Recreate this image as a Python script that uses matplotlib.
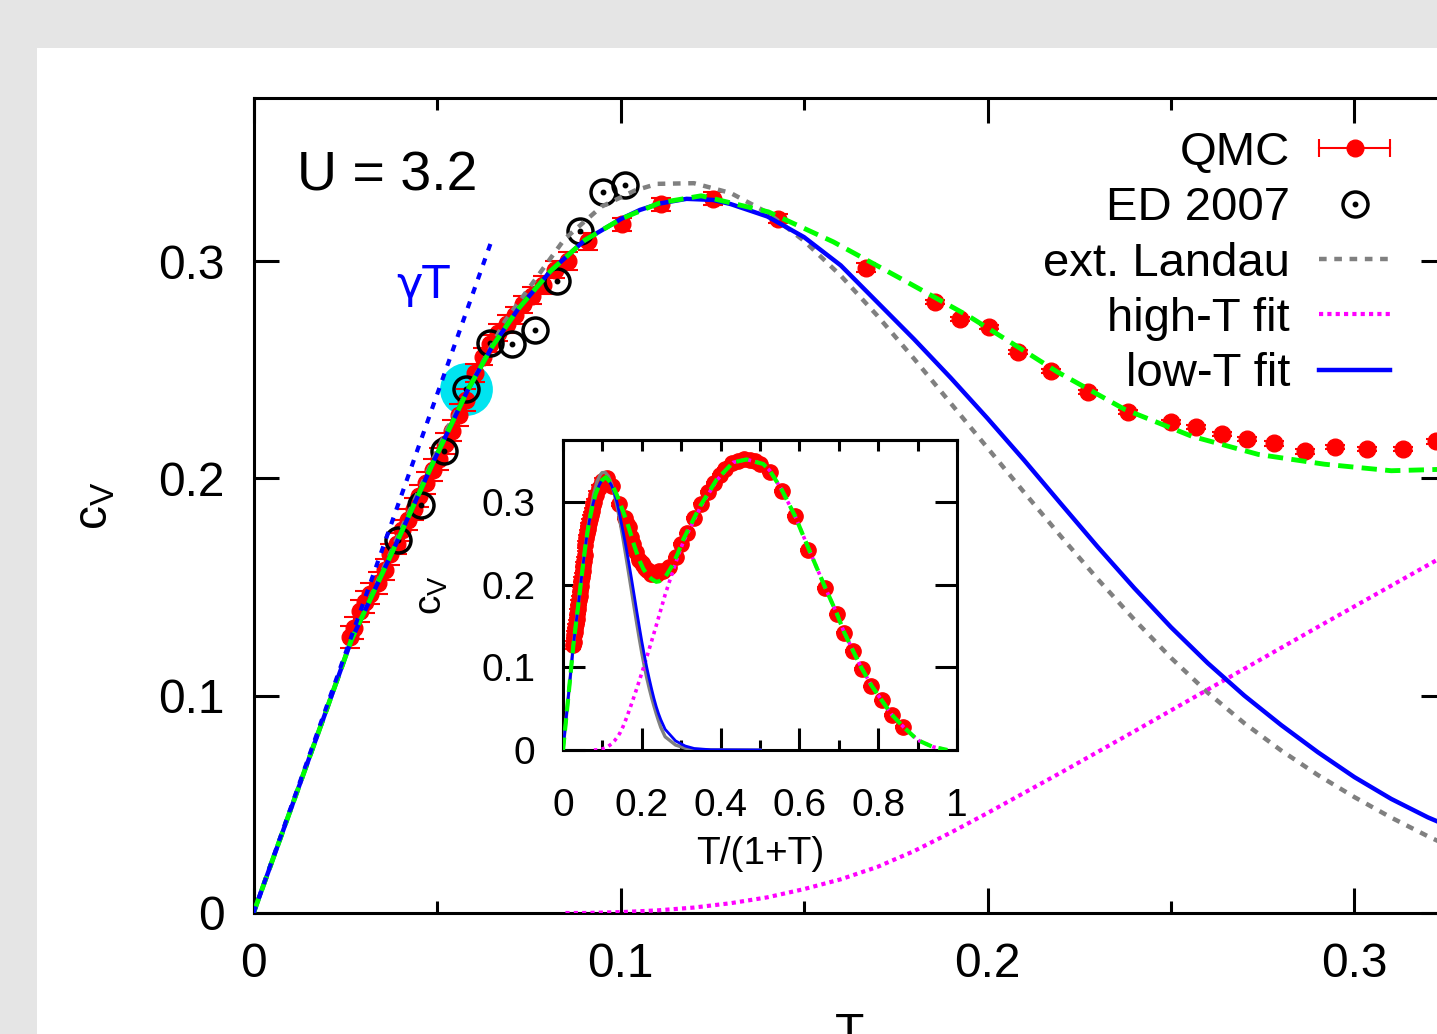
import numpy as np
import matplotlib
matplotlib.use("Agg")
import matplotlib.pyplot as plt
from matplotlib.patches import Rectangle
from matplotlib.lines import Line2D
from matplotlib.legend_handler import HandlerTuple, HandlerLine2D

plt.rcParams["font.family"] = ["Liberation Sans", "DejaVu Sans"]
plt.rcParams["mathtext.fontset"] = "custom"
plt.rcParams["mathtext.rm"] = "Liberation Sans"
plt.rcParams["mathtext.it"] = "Liberation Sans"
plt.rcParams["lines.scale_dashes"] = False

# =========================
# DATA
# =========================
# QMC specific heat (with error bars at low T)
QMC_T = [0.0262, 0.0275, 0.0290, 0.0305, 0.0318, 0.0340, 0.0357, 0.0372, 0.0390, 0.0405,
         0.0420, 0.0438, 0.0452, 0.0470, 0.0488, 0.0505, 0.0522, 0.0540, 0.0560, 0.0580,
         0.0603, 0.0625, 0.0645, 0.0667, 0.0690, 0.0712, 0.0735, 0.0760, 0.0790, 0.0821,
         0.0857, 0.0912, 0.1003, 0.111, 0.1253, 0.143, 0.167,
         0.1856, 0.1924, 0.2003, 0.2084, 0.2174, 0.2275, 0.2384, 0.2501, 0.2567, 0.2638,
         0.2708, 0.2782, 0.2864, 0.2946, 0.3035, 0.3131, 0.3223,
         0.34, 0.37, 0.40, 0.43, 0.46, 0.50, 0.54, 0.58, 0.62, 0.66, 0.70, 0.75, 0.80,
         0.85, 0.90, 0.95, 1.0, 1.105, 1.247, 1.433, 1.653, 1.985, 2.279, 2.484, 2.774,
         3.132, 3.608, 4.236, 5.024, 6.353]
QMC_CV = [0.127, 0.131, 0.139, 0.143, 0.147, 0.152, 0.158, 0.165, 0.170, 0.176,
          0.181, 0.186, 0.192, 0.198, 0.204, 0.209, 0.216, 0.222, 0.229, 0.236,
          0.2485, 0.256, 0.262, 0.267, 0.271, 0.275, 0.280, 0.284, 0.289, 0.296,
          0.300, 0.309, 0.317, 0.326, 0.3286, 0.3194, 0.297,
          0.281, 0.2733, 0.2696, 0.258, 0.2493, 0.2396, 0.2304, 0.2258, 0.2235, 0.2203,
          0.218, 0.2161, 0.2124, 0.2143, 0.2134, 0.2134, 0.217,
          0.216, 0.221, 0.233, 0.249, 0.262, 0.281, 0.298, 0.312, 0.323, 0.333, 0.340,
          0.347, 0.350, 0.352, 0.351, 0.349, 0.346, 0.336, 0.313, 0.283, 0.242, 0.196,
          0.164, 0.142, 0.120, 0.098, 0.077, 0.060, 0.042, 0.028]
QMC_ERR = [0.005, 0.005, 0.005, 0.005, 0.005, 0.005, 0.005, 0.005, 0.005, 0.005,
           0.005, 0.005, 0.005, 0.005, 0.005, 0.005, 0.005, 0.005, 0.005, 0.005,
           0.004, 0.004, 0.004, 0.004, 0.004, 0.004, 0.004, 0.004, 0.004, 0.004,
           0.004, 0.004, 0.003, 0.003, 0.003, 0.002, 0.002,
           0.001, 0.001, 0.001, 0.001, 0.001, 0.001, 0.001, 0.001, 0.001, 0.001,
           0.001, 0.001, 0.001, 0.001, 0.001, 0.001, 0.001,
           0.001, 0.001, 0.001, 0.001, 0.001, 0.001, 0.001, 0.001, 0.001, 0.001, 0.001,
           0.001, 0.001, 0.001, 0.001, 0.001, 0.001, 0.001, 0.001, 0.001, 0.001, 0.001,
           0.001, 0.001, 0.001, 0.001, 0.001, 0.001, 0.001, 0.001]

# ED 2007
ED_T = [0.0394, 0.0456, 0.0518, 0.0580, 0.0644, 0.0703, 0.0767, 0.0826, 0.0891, 0.0951, 0.1012]
ED_CV = [0.1715, 0.1878, 0.2125, 0.2409, 0.2624, 0.2619, 0.2681, 0.2910, 0.3136, 0.3319, 0.3348]
HIGHLIGHT = 3  # ED point marked in cyan

# extended Landau theory
LANDAU_T = [0, 0.01, 0.02, 0.0267, 0.0394, 0.0531, 0.0684, 0.0847, 0.0948, 0.104,
            0.11, 0.12, 0.13, 0.14, 0.15, 0.16, 0.17, 0.18, 0.19, 0.20, 0.21, 0.22,
            0.23, 0.24, 0.25, 0.26, 0.27, 0.28, 0.29, 0.30, 0.31, 0.32, 0.33,
            0.35, 0.40, 0.45, 0.5, 0.6, 1.0]
LANDAU_CV = [0, 0.047, 0.094, 0.1258, 0.1735, 0.2240, 0.272, 0.310, 0.325, 0.3325,
             0.3355, 0.3358, 0.3313, 0.3223, 0.3093, 0.2933, 0.2748, 0.2550, 0.2345, 0.2140,
             0.1935, 0.1733, 0.1537, 0.1350, 0.1174, 0.1014, 0.0873, 0.0748, 0.0635, 0.0533,
             0.0439, 0.0353, 0.0274, 0.016, 0.006, 0.0022, 0.0007, 0.0001, 0.0]

# low-T fit
LOWT_T = [0, 0.01, 0.02, 0.0267, 0.0394, 0.0490, 0.0585, 0.0650, 0.0721, 0.0810, 0.0902,
          0.1003, 0.1053, 0.1108, 0.1180, 0.1252, 0.13, 0.14, 0.15, 0.16, 0.17, 0.18,
          0.19, 0.20, 0.21, 0.22, 0.23, 0.24, 0.25, 0.26, 0.27, 0.28, 0.29, 0.30, 0.31,
          0.32, 0.33, 0.35, 0.40, 0.45, 0.50, 0.60, 1.0]
LOWT_CV = [0, 0.047, 0.094, 0.1258, 0.1719, 0.2075, 0.241, 0.2605, 0.2779, 0.2955, 0.3095,
           0.3195, 0.3235, 0.3265, 0.3286, 0.3281, 0.3262, 0.3205, 0.3110, 0.2980, 0.2810,
           0.2640, 0.2462, 0.2276, 0.2083, 0.1883, 0.1685, 0.1495, 0.1315, 0.1150, 0.1000,
           0.0865, 0.0740, 0.0625, 0.0525, 0.0440, 0.0368, 0.025, 0.011, 0.0048, 0.0018,
           0.0003, 0.0]

# high-T fit
HIGHT_T = [0.085, 0.09, 0.10, 0.11, 0.12, 0.13, 0.14, 0.15, 0.16, 0.17, 0.18, 0.19, 0.20,
           0.21, 0.22, 0.23, 0.24, 0.25, 0.26, 0.27, 0.28, 0.29, 0.30, 0.31, 0.32, 0.33,
           0.35, 0.381, 0.41, 0.439, 0.534, 0.639, 0.761, 0.873, 1.033, 1.105, 1.247,
           1.433, 1.653, 1.985, 2.279, 2.484, 2.774, 3.132, 3.608, 4.236, 5.024, 6.353,
           9, 15, 40]
HIGHT_CV = [0, 0.0, 0.0004, 0.0012, 0.0025, 0.0045, 0.0072, 0.0110, 0.0155, 0.0212,
            0.0285, 0.0370, 0.0460, 0.0553, 0.0646, 0.0741, 0.0836, 0.0932, 0.1028, 0.1124,
            0.1220, 0.1316, 0.1411, 0.1506, 0.1601, 0.1695, 0.188, 0.212, 0.233, 0.2515,
            0.293, 0.326, 0.348, 0.3515, 0.346, 0.338, 0.315, 0.283, 0.244, 0.197, 0.165,
            0.143, 0.121, 0.099, 0.078, 0.060, 0.043, 0.028, 0.012, 0.004, 0.0]

# total fit (green dashed)
TOTAL_T = [0, 0.01, 0.02, 0.0267, 0.0394, 0.0490, 0.0585, 0.0650, 0.0721, 0.081, 0.0902,
           0.1003, 0.1108, 0.122, 0.1403, 0.158, 0.1766, 0.1948, 0.2093, 0.219, 0.2373,
           0.2556, 0.2738, 0.2918, 0.310, 0.3229, 0.35, 0.381, 0.41, 0.439, 0.534, 0.639,
           0.761, 0.873, 1.033, 1.105, 1.247, 1.433, 1.653, 1.985, 2.279, 2.484, 2.774,
           3.132, 3.608, 4.236, 5.024, 6.353, 9, 15, 40]
TOTAL_CV = [0, 0.047, 0.094, 0.1258, 0.1719, 0.2075, 0.241, 0.2605, 0.2779, 0.2955, 0.3095,
            0.3195, 0.3268, 0.33, 0.3226, 0.3088, 0.2917, 0.2747, 0.2594, 0.249, 0.2318,
            0.2194, 0.211, 0.2065, 0.2035, 0.2041, 0.209, 0.222, 0.237, 0.2545, 0.295, 0.327,
            0.348, 0.3515, 0.346, 0.338, 0.315, 0.283, 0.244, 0.197, 0.165, 0.143, 0.121,
            0.099, 0.078, 0.060, 0.043, 0.028, 0.012, 0.004, 0.0]

# gamma*T asymptote
GAMMA_T = [0, 0.065]
GAMMA_CV = [0, 0.310]

MAIN_XTICKS = [0, 0.1, 0.2, 0.3]
MAIN_XLABELS = ["0", "0.1", "0.2", "0.3"]
MAIN_YTICKS = [0, 0.1, 0.2, 0.3]
MAIN_YLABELS = ["0", "0.1", "0.2", "0.3"]
INSET_XTICKS = [0, 0.2, 0.4, 0.6, 0.8, 1.0]
INSET_XLABELS = ["0", "0.2", "0.4", "0.6", "0.8", "1"]
INSET_YTICKS = [0, 0.1, 0.2, 0.3]
INSET_YLABELS = ["0", "0.1", "0.2", "0.3"]

RED = "#ff0000"
GRAY = "#808080"
MAGENTA = "#ff00ff"
BLUE = "#0000ff"
GREEN = "#00ff00"
CYAN = "#00e4f0"

W, H = 1437, 1034
FS_MAIN = 34.5
FS_INSET = 28


def tx(t):
    t = np.asarray(t, dtype=float)
    return t / (1.0 + t)


def style_axes(a, lw):
    for sp in a.spines.values():
        sp.set_linewidth(lw)


def main():
    fig = plt.figure(figsize=(W / 100, H / 100), dpi=100, facecolor="#e5e5e5")
    fig.add_artist(Rectangle((37 / W, 0), 1, (H - 48) / H, transform=fig.transFigure,
                             facecolor="white", edgecolor="none", zorder=-5))

    # ---------- main panel ----------
    ax = fig.add_axes([253.5 / W, 121 / H, 1192.75 / W, 815 / H])
    ax.set_xlim(0, 0.325)
    ax.set_ylim(0, 0.375)
    style_axes(ax, 2.2)

    ax.plot(ED_T[HIGHLIGHT], ED_CV[HIGHLIGHT], "o", ms=38, color=CYAN, mec="none", zorder=2)
    ax.errorbar(QMC_T, QMC_CV, yerr=QMC_ERR, fmt="o", ms=12, color=RED, ecolor=RED,
                elinewidth=1.5, capsize=7, capthick=1.5, zorder=3)
    ax.plot(ED_T, ED_CV, "o", ms=18, mfc="none", mec="black", mew=2.5, zorder=4)
    ax.plot(ED_T, ED_CV, "o", ms=3.2, color="black", zorder=4)

    l_landau, = ax.plot(LANDAU_T, LANDAU_CV, color=GRAY, lw=3.2, dashes=(5.5, 5.5), zorder=5)
    l_high, = ax.plot(HIGHT_T, HIGHT_CV, color=MAGENTA, lw=3.0, dashes=(3, 3), zorder=6)
    l_low, = ax.plot(LOWT_T, LOWT_CV, color=BLUE, lw=3.2, zorder=7)
    ax.plot(TOTAL_T, TOTAL_CV, color=GREEN, lw=3.5, dashes=(11, 6), zorder=8)
    ax.plot(GAMMA_T, GAMMA_CV, color=BLUE, lw=3.0, dashes=(5, 6), zorder=9)

    ax.set_xticks(MAIN_XTICKS)
    ax.set_xticklabels(MAIN_XLABELS)
    ax.set_xticks([0.05, 0.15, 0.25], minor=True)
    ax.set_yticks(MAIN_YTICKS)
    ax.set_yticklabels(MAIN_YLABELS)
    ax.tick_params(which="both", direction="in", top=True, right=True, width=2.2,
                   labelsize=FS_MAIN, pad=21)
    ax.tick_params(which="major", length=18)
    ax.tick_params(which="minor", length=8.5)

    ax.set_xlabel("T", fontsize=FS_MAIN, va="top")
    ax.xaxis.set_label_coords(0.5, (913 - 1012) / 815)
    ax.set_ylabel(r"$\mathrm{c_V}$", fontsize=FS_MAIN, va="center")
    ax.yaxis.set_label_coords((95 - 253.5) / 1192.75, 0.5)

    ax.text(0.0365, 0.887, "U = 3.2", transform=ax.transAxes, fontsize=40, va="baseline")
    ax.text(0.120, 0.7546, "γT", transform=ax.transAxes, fontsize=32, color=BLUE,
            va="baseline", family=["DejaVu Sans"])

    # legend, gnuplot style (text left, sample right)
    caps = Line2D([], [], color=RED, lw=1.5, marker="|", ms=13, mew=1.5)
    dot = Line2D([], [], ls="none", marker="o", color=RED, ms=12)
    ring = Line2D([], [], ls="none", marker="o", ms=18, mfc="none", mec="black", mew=2.5)
    cdot = Line2D([], [], ls="none", marker="o", ms=3.2, color="black")
    handles = [(caps, dot), (ring, cdot), l_landau, l_high, l_low]
    labels = ["QMC", "ED 2007", "ext. Landau", "high-T fit", "low-T fit"]
    ax.legend(handles, labels, loc="upper right",
              bbox_to_anchor=(1390 / W, (H - 131) / H), bbox_transform=fig.transFigure,
              frameon=False, markerfirst=False, fontsize=34, handlelength=1.5,
              handletextpad=0.62, labelspacing=0.24, borderpad=0, borderaxespad=0,
              numpoints=1,
              handler_map={tuple: HandlerTuple(ndivide=1, pad=0),
                           caps: HandlerLine2D(numpoints=2, marker_pad=0)})

    # ---------- inset ----------
    ai = fig.add_axes([563 / W, (H - 750) / H, 394 / W, 310 / H])
    ai.set_zorder(10)
    ai.set_xlim(0, 1)
    ai.set_ylim(0, 0.375)
    style_axes(ai, 2.2)

    ai.errorbar(tx(QMC_T), QMC_CV, yerr=QMC_ERR, fmt="o", ms=11, color=RED, ecolor=RED,
                elinewidth=1.3, capsize=6, capthick=1.3, zorder=3)
    ai.plot(tx(LANDAU_T), LANDAU_CV, color=GRAY, lw=2.4, zorder=5)
    ai.plot(tx(HIGHT_T), HIGHT_CV, color=MAGENTA, lw=2.6, dashes=(2.5, 3), zorder=6)
    ai.plot(tx(LOWT_T), LOWT_CV, color=BLUE, lw=2.0, zorder=7)
    ai.plot(tx(TOTAL_T), TOTAL_CV, color=GREEN, lw=3.0, dashes=(9, 5), zorder=8)

    ai.set_xticks(INSET_XTICKS)
    ai.set_xticklabels(INSET_XLABELS)
    ai.set_xticks([0.1, 0.3, 0.5, 0.7, 0.9], minor=True)
    ai.set_yticks(INSET_YTICKS)
    ai.set_yticklabels(INSET_YLABELS)
    ai.tick_params(axis="y", which="both", direction="in", right=True, width=2.2,
                   length=16, labelsize=FS_INSET, pad=20)
    ai.tick_params(axis="x", which="both", direction="in", top=False, width=2.2,
                   labelsize=FS_INSET, pad=27)
    ai.tick_params(axis="x", which="major", length=16)
    ai.tick_params(axis="x", which="minor", length=7)

    top = ai.secondary_xaxis("top")
    top.set_xticks(np.arange(0, 1.01, 0.1))
    top.tick_params(direction="in", length=8, width=2.2, labeltop=False)
    top.spines["top"].set_linewidth(2.2)

    ai.set_xlabel("T/(1+T)", fontsize=FS_INSET, va="top")
    ai.xaxis.set_label_coords(0.5, (750 - 836) / 310)
    ai.set_ylabel(r"$\mathrm{c_V}$", fontsize=FS_INSET, va="center")
    ai.yaxis.set_label_coords((432 - 563) / 394, 0.5)

    fig.savefig("out.png", dpi=100, facecolor=fig.get_facecolor())
    plt.close(fig)


if __name__ == "__main__":
    main()
